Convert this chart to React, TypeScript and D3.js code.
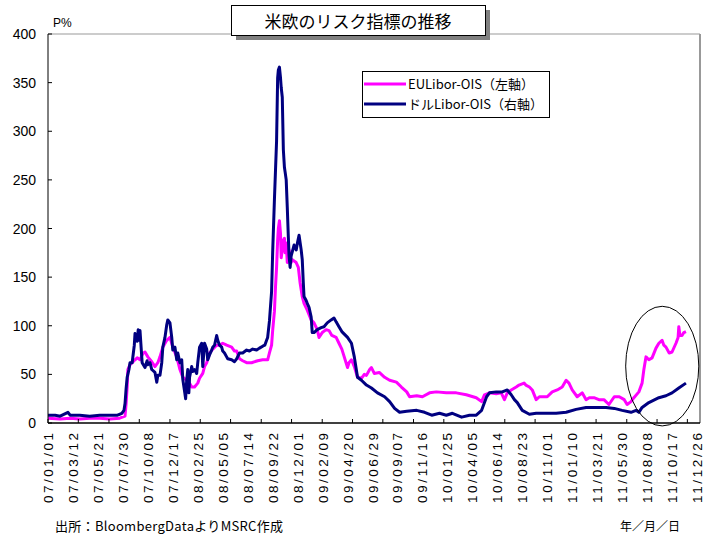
import React from "react";
import * as d3 from "d3";

// EUR Libor-OIS spread (bp)
const euDates = [
  "07/01/01", "07/02/04", "07/03/04", "07/03/31", "07/04/28", "07/05/26", "07/06/23", "07/07/21",
  "07/08/05", "07/08/08", "07/08/11", "07/08/13", "07/08/19", "07/08/25", "07/09/02", "07/09/08",
  "07/09/16", "07/09/22", "07/09/25", "07/09/30", "07/10/08", "07/10/19", "07/10/28", "07/11/05",
  "07/11/11", "07/11/19", "07/11/30", "07/12/09", "07/12/17", "07/12/28", "08/01/06", "08/01/14",
  "08/01/25", "08/02/02", "08/02/08", "08/02/16", "08/02/25", "08/03/01", "08/03/10", "08/03/15",
  "08/03/21", "08/03/29", "08/04/07", "08/04/18", "08/04/26", "08/05/05", "08/05/16", "08/05/30",
  "08/06/07", "08/06/13", "08/06/21", "08/06/30", "08/07/11", "08/07/25", "08/08/11", "08/08/25",
  "08/09/08", "08/09/13", "08/09/19", "08/09/22", "08/09/27", "08/09/30", "08/10/03", "08/10/06",
  "08/10/08", "08/10/11", "08/10/14", "08/10/16", "08/10/19", "08/10/22", "08/10/25", "08/10/27",
  "08/10/30", "08/11/02", "08/11/07", "08/11/13", "08/11/16", "08/11/27", "08/12/03", "08/12/08",
  "08/12/14", "08/12/19", "08/12/28", "09/01/08", "09/01/16", "09/01/25", "09/01/30", "09/02/08",
  "09/02/19", "09/02/27", "09/03/07", "09/03/19", "09/03/27", "09/04/04", "09/04/09", "09/04/20",
  "09/04/24", "09/05/01", "09/05/09", "09/05/18", "09/05/29", "09/06/06", "09/06/12", "09/06/21",
  "09/06/26", "09/07/04", "09/07/18", "09/08/02", "09/08/16", "09/09/04", "09/09/18", "09/10/03",
  "09/10/11", "09/10/31", "09/11/16", "09/12/06", "09/12/25", "10/01/22", "10/02/19", "10/03/19",
  "10/04/16", "10/05/01", "10/05/09", "10/05/23", "10/06/11", "10/06/25", "10/07/04", "10/07/12",
  "10/07/23", "10/08/06", "10/08/14", "10/08/28", "10/09/02", "10/09/12", "10/09/20", "10/10/01",
  "10/10/10", "10/10/18", "10/11/01", "10/11/15", "10/11/29", "10/12/13", "10/12/24", "11/01/01",
  "11/01/10", "11/01/24", "11/02/07", "11/02/18", "11/02/27", "11/03/12", "11/03/26", "11/04/09",
  "11/04/23", "11/05/08", "11/05/22", "11/06/05", "11/06/13", "11/06/24", "11/07/02", "11/07/16",
  "11/07/25", "11/07/30", "11/08/05", "11/08/13", "11/08/22", "11/09/02", "11/09/10", "11/09/19",
  "11/09/24", "11/09/30", "11/10/09", "11/10/17", "11/10/28", "11/11/03", "11/11/05", "11/11/08",
  "11/11/14", "11/11/19", "11/11/25",
];
const euValues = [
  5, 4, 5, 4, 5, 5, 4, 5,
  7, 20, 37, 55, 60, 62, 65, 67,
  65, 70, 72, 73, 68, 63, 58, 62,
  68, 78, 85, 88, 78, 68, 55, 47,
  44, 41, 37, 37, 41, 46, 51, 58,
  62, 72, 76, 80, 80, 82, 80, 78,
  74, 74, 66, 64, 62, 62, 64, 65,
  65, 72, 80, 95, 115, 140, 160, 188,
  200, 208, 195, 170, 178, 188, 190, 175,
  185, 165, 178, 165, 168, 165, 160, 144,
  130, 123, 116, 106, 103, 96, 88, 93,
  96, 95, 90, 88, 82, 76, 70, 57,
  62, 65, 58, 47, 46, 50, 49, 55,
  57, 51, 52, 47, 44, 42, 37, 32,
  27, 28, 27, 31, 32, 31, 31, 29,
  26, 22, 29, 31, 30, 31, 24, 31,
  34, 37, 39, 41, 39, 37, 34, 24,
  27, 27, 27, 32, 34, 37, 44, 41,
  34, 27, 31, 24, 26, 26, 24, 24,
  19, 27, 27, 24, 19, 22, 26, 32,
  41, 55, 68, 65, 67, 77, 82, 85,
  80, 78, 72, 73, 82, 88, 99, 90,
  90, 93, 94,
];

// USD Libor-OIS spread (bp)
const usDates = [
  "07/01/01", "07/01/21", "07/02/04", "07/02/26", "07/03/04", "07/03/31", "07/04/28", "07/05/26",
  "07/06/23", "07/07/15", "07/07/27", "07/08/02", "07/08/05", "07/08/08", "07/08/11", "07/08/16",
  "07/08/19", "07/08/25", "07/08/31", "07/09/02", "07/09/08", "07/09/11", "07/09/14", "07/09/16",
  "07/09/22", "07/09/30", "07/10/06", "07/10/08", "07/10/14", "07/10/19", "07/10/28", "07/11/02",
  "07/11/05", "07/11/11", "07/11/16", "07/11/19", "07/11/25", "07/11/30", "07/12/03", "07/12/09",
  "07/12/14", "07/12/17", "07/12/23", "07/12/28", "07/12/31", "08/01/06", "08/01/11", "08/01/14",
  "08/01/20", "08/01/22", "08/01/25", "08/01/28", "08/01/31", "08/02/02", "08/02/08", "08/02/11",
  "08/02/16", "08/02/22", "08/02/25", "08/03/01", "08/03/07", "08/03/10", "08/03/15", "08/03/21",
  "08/03/24", "08/03/29", "08/04/04", "08/04/07", "08/04/12", "08/04/18", "08/04/21", "08/04/26",
  "08/05/02", "08/05/05", "08/05/10", "08/05/16", "08/05/19", "08/05/30", "08/06/07", "08/06/13",
  "08/06/21", "08/06/30", "08/07/11", "08/07/19", "08/07/28", "08/08/08", "08/08/16", "08/08/25",
  "08/08/31", "08/09/05", "08/09/08", "08/09/13", "08/09/19", "08/09/22", "08/09/27", "08/09/30",
  "08/10/03", "08/10/06", "08/10/08", "08/10/11", "08/10/14", "08/10/16", "08/10/19", "08/10/22",
  "08/10/25", "08/10/27", "08/10/30", "08/11/02", "08/11/05", "08/11/07", "08/11/10", "08/11/13",
  "08/11/16", "08/11/21", "08/11/27", "08/12/01", "08/12/05", "08/12/11", "08/12/14", "08/12/17",
  "08/12/19", "08/12/25", "08/12/28", "09/01/02", "09/01/08", "09/01/11", "09/01/16", "09/01/25",
  "09/02/05", "09/02/13", "09/02/22", "09/03/05", "09/03/13", "09/03/19", "09/03/27", "09/04/04",
  "09/04/20", "09/05/01", "09/05/09", "09/05/18", "09/05/29", "09/06/12", "09/06/26", "09/07/13",
  "09/08/02", "09/08/16", "09/08/30", "09/09/13", "09/10/03", "09/10/31", "09/11/22", "09/12/12",
  "10/01/03", "10/01/22", "10/02/08", "10/03/06", "10/03/28", "10/04/16", "10/05/01", "10/05/15",
  "10/05/23", "10/06/11", "10/06/28", "10/07/12", "10/07/23", "10/08/01", "10/08/09", "10/08/23",
  "10/09/12", "10/10/01", "10/10/29", "10/11/26", "10/12/24", "11/01/21", "11/02/18", "11/03/18",
  "11/04/15", "11/05/08", "11/05/30", "11/06/24", "11/07/08", "11/07/16", "11/07/25", "11/08/13",
  "11/09/10", "11/09/30", "11/10/17", "11/11/05", "11/11/25",
];
const usValues = [
  8, 8, 7, 11, 8, 8, 7, 8,
  8, 8, 10, 13, 20, 35, 47, 55,
  62, 62, 80, 92, 84, 96, 85, 95,
  62, 57, 64, 60, 62, 55, 52, 42,
  49, 49, 62, 78, 88, 101, 106, 103,
  88, 75, 78, 65, 72, 62, 65, 45,
  30, 25, 44, 55, 31, 47, 58, 53,
  55, 51, 62, 78, 82, 58, 82, 76,
  65, 70, 75, 78, 80, 90, 85, 80,
  78, 74, 72, 68, 66, 65, 63, 66,
  72, 72, 75, 74, 76, 75, 77, 79,
  80, 85, 88, 105, 135, 175, 230, 260,
  290, 355, 363, 366, 355, 345, 335, 281,
  263, 258, 250, 222, 191, 172, 160, 172,
  176, 183, 178, 186, 193, 178, 168, 144,
  130, 126, 123, 119, 109, 93, 93, 96,
  98, 99, 103, 106, 108, 104, 99, 94,
  88, 82, 68, 47, 44, 39, 36, 31,
  27, 22, 15, 11, 12, 13, 11, 8,
  10, 8, 10, 6, 8, 8, 13, 27,
  31, 32, 32, 34, 29, 24, 21, 13,
  9, 10, 10, 10, 11, 14, 16, 16,
  16, 15, 13, 11, 13, 11, 16, 21,
  26, 28, 31, 36, 41,
];

const xLabels = [
  "07/01/01", "07/03/12", "07/05/21", "07/07/30", "07/10/08", "07/12/17", "08/02/25",
  "08/05/05", "08/07/14", "08/09/22", "08/12/01", "09/02/09", "09/04/20", "09/06/29",
  "09/09/07", "09/11/16", "10/01/25", "10/04/05", "10/06/14", "10/08/23", "10/11/01",
  "11/01/10", "11/03/21", "11/05/30", "11/08/08", "11/10/17", "11/12/26",
];
const yTicks = [0, 50, 100, 150, 200, 250, 300, 350, 400];

const seriesNames = ["EULibor-OIS（左軸）", "ドルLibor-OIS（右軸）"];
const seriesColors = ["#FF00FF", "#000080"];

// highlighted area (circled in the original)
const highlightDates = ["11/06/09", "11/12/31"];
const highlightValues = [-3, 120];

const parse = d3.timeParse("%y/%m/%d");
const W = 716;
const H = 535;
const left = 48, right = 700, top = 34, bottom = 423;
const jp = "'Noto Sans CJK JP', sans-serif";
const num = "'Liberation Sans', Arial, sans-serif";

export default function App() {
  const x = d3.scaleTime()
    .domain([parse("07/01/01")!, parse("11/12/26")!])
    .range([left, 697]);
  const y = d3.scaleLinear().domain([0, 400]).range([bottom, top]);

  const eu = euDates.map((d, i) => ({ date: parse(d)!, v: euValues[i] }));
  const us = usDates.map((d, i) => ({ date: parse(d)!, v: usValues[i] }));
  const line = d3.line<{ date: Date; v: number }>()
    .x(d => x(d.date))
    .y(d => y(d.v));

  // tick marks don't line up with the labels (excel category axis)
  const start = parse("07/01/01")!;
  const tickMarks = d3.range(0, 22).map(i => x(d3.timeDay.offset(start, Math.round(i * 85.4))));

  const ex0 = x(parse(highlightDates[0])!), ex1 = x(parse(highlightDates[1])!);
  const ey0 = y(highlightValues[1]), ey1 = y(highlightValues[0]);

  return (
    <svg width={W} height={H} style={{ position: "absolute", left: 0, top: 0, background: "#fff" }}>
      {/* frame */}
      <line x1={left} x2={right} y1={top} y2={top} stroke="#999" strokeWidth={1} />
      <line x1={right} x2={right} y1={top} y2={bottom} stroke="#999" strokeWidth={2} />

      {/* series */}
      <path d={line(eu)!} fill="none" stroke={seriesColors[0]} strokeWidth={3} strokeLinejoin="round" />
      <path d={line(us)!} fill="none" stroke={seriesColors[1]} strokeWidth={3} strokeLinejoin="round" />

      {/* axes */}
      <line x1={left} x2={left} y1={top} y2={bottom} stroke="#000" strokeWidth={1} />
      <line x1={left} x2={right} y1={bottom} y2={bottom} stroke="#000" strokeWidth={1.5} />
      {yTicks.map(t => (
        <g key={t}>
          <line x1={left} x2={left + 4} y1={y(t)} y2={y(t)} stroke="#000" />
          <text x={36} y={y(t) + 5} textAnchor="end" fontFamily={num} fontSize={14}>{t}</text>
        </g>
      ))}
      {tickMarks.map((tx, i) => (
        <line key={i} x1={tx} x2={tx} y1={bottom} y2={bottom - 4} stroke="#000" />
      ))}
      {xLabels.map(l => {
        const lx = x(parse(l)!);
        return (
          <text key={l} transform={`translate(${lx + 5},433) rotate(-90)`} textAnchor="end"
            fontFamily={num} fontSize={13.5} textLength={70} lengthAdjust="spacing">{l}</text>
        );
      })}
      <text x={53} y={27} fontFamily={num} fontSize={12}>P%</text>

      {/* highlight */}
      <ellipse cx={(ex0 + ex1) / 2} cy={(ey0 + ey1) / 2} rx={(ex1 - ex0) / 2} ry={(ey1 - ey0) / 2}
        fill="none" stroke="#000" strokeWidth={1} />

      {/* title */}
      <rect x={236} y={10} width={254} height={30} fill="#808080" />
      <rect x={231.5} y={5.5} width={254} height={30} fill="#fff" stroke="#000" strokeWidth={1} />
      <text x={358} y={28} textAnchor="middle" fontFamily={jp} fontSize={17}>米欧のリスク指標の推移</text>

      {/* legend */}
      <rect x={362.5} y={71.5} width={187} height={46} fill="#fff" stroke="#000" strokeWidth={1} />
      {seriesNames.map((n, i) => (
        <g key={n}>
          <line x1={364} x2={406} y1={84 + i * 20} y2={84 + i * 20} stroke={seriesColors[i]} strokeWidth={3} />
          <text x={408} y={89 + i * 20} fontFamily={jp} fontSize={13}>{n}</text>
        </g>
      ))}

      {/* notes */}
      <text x={55} y={531} fontFamily={jp} fontSize={13} textLength={228} lengthAdjust="spacing">出所：BloombergDataよりMSRC作成</text>
      <text x={620} y={531} fontFamily={jp} fontSize={12}>年／月／日</text>
    </svg>
  );
}
